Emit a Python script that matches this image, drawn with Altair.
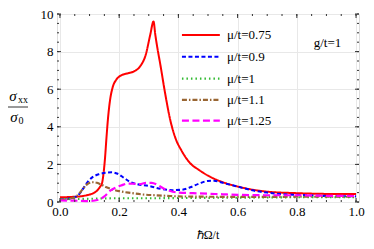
import altair as alt
import pandas as pd

# ---------------- data ----------------
red_x = [0, 0.04, 0.07, 0.09, 0.11, 0.125, 0.135, 0.142, 0.147, 0.152, 0.157, 0.162, 0.169, 0.178, 0.19, 0.205, 0.23, 0.25, 0.27, 0.29, 0.305, 0.316, 0.322, 0.33, 0.338, 0.355, 0.372, 0.39, 0.41, 0.44, 0.47, 0.5, 0.56, 0.62, 0.7, 0.8, 0.9, 1.0]
red_y = [0.25, 0.27, 0.3, 0.36, 0.45, 0.6, 0.8, 1.0, 1.5, 2.3, 3.4, 4.4, 5.4, 6.1, 6.5, 6.72, 6.85, 6.95, 7.2, 7.85, 8.9, 9.6, 8.9, 8.1, 7.4, 5.8, 4.4, 3.4, 2.75, 2.06, 1.7, 1.4, 1.0, 0.75, 0.55, 0.47, 0.43, 0.42]

blue_x = [0, 0.03, 0.05, 0.065, 0.08, 0.095, 0.11, 0.13, 0.155, 0.175, 0.195, 0.215, 0.235, 0.26, 0.3, 0.34, 0.38, 0.41, 0.44, 0.47, 0.5, 0.52, 0.55, 0.6, 0.65, 0.7, 0.75, 0.8, 0.9, 1.0]
blue_y = [0.14, 0.18, 0.25, 0.42, 0.75, 1.1, 1.32, 1.47, 1.56, 1.58, 1.5, 1.3, 1.08, 0.95, 0.85, 0.7, 0.63, 0.65, 0.78, 0.98, 1.12, 1.13, 1.02, 0.82, 0.62, 0.5, 0.42, 0.38, 0.32, 0.3]

green_x = [0, 0.1, 0.2, 0.3, 0.4, 0.5, 0.6, 0.7, 0.8, 0.9, 1.0]
green_y = [0.15, 0.17, 0.2, 0.2, 0.21, 0.22, 0.23, 0.24, 0.25, 0.25, 0.26]

brown_x = [0, 0.03, 0.05, 0.065, 0.08, 0.095, 0.11, 0.125, 0.14, 0.155, 0.175, 0.2, 0.24, 0.28, 0.32, 0.36, 0.4, 0.5, 0.6, 0.7, 0.8, 0.9, 1.0]
brown_y = [0.12, 0.17, 0.25, 0.45, 0.75, 0.98, 1.05, 1.02, 0.92, 0.8, 0.68, 0.58, 0.48, 0.4, 0.36, 0.33, 0.3, 0.28, 0.27, 0.27, 0.28, 0.28, 0.28]

magenta_x = [0, 0.05, 0.1, 0.13, 0.15, 0.17, 0.19, 0.21, 0.23, 0.25, 0.27, 0.29, 0.31, 0.33, 0.35, 0.37, 0.4, 0.45, 0.5, 0.55, 0.6, 0.7, 0.8, 0.9, 1.0]
magenta_y = [0.08, 0.07, 0.05, 0.12, 0.3, 0.6, 0.78, 0.9, 0.98, 0.97, 0.95, 1.02, 1.02, 0.9, 0.72, 0.6, 0.5, 0.47, 0.44, 0.41, 0.38, 0.36, 0.36, 0.33, 0.32]

series_names = ["μ/t=0.75", "μ/t=0.9", "μ/t=1", "μ/t=1.1", "μ/t=1.25"]
series_colors = ["#ff0000", "#0000ff", "#33bb33", "#996633", "#ff00ff"]
series_dashes = [[1, 0], [4, 2.5], [1.5, 3], [5, 2, 1.5, 2], [7, 3.5]]
series_widths = [2.0, 2.2, 1.8, 1.8, 2.0]

x_ticks = [0, 0.2, 0.4, 0.6, 0.8, 1.0]
y_ticks = [0, 2, 4, 6, 8, 10]
x_minor = [round(0.05 * i, 2) for i in range(21)]
y_minor = [0.5 * i for i in range(21)]

x_title = "ℏΩ/t"

# legend placement (data units)
leg_x0, leg_x1, leg_tx = 0.412, 0.54, 0.564
leg_rows = [8.88, 7.73, 6.56, 5.43, 4.33]

# ---------------- build tables ----------------
rows = []
for name, xs, ys in zip(series_names,
                        [red_x, blue_x, green_x, brown_x, magenta_x],
                        [red_y, blue_y, green_y, brown_y, magenta_y]):
    for i, (a, b) in enumerate(zip(xs, ys)):
        rows.append({"x": a, "y": b, "s": name, "o": i})
df = pd.DataFrame(rows)

leg = []
for name, yy in zip(series_names, leg_rows):
    leg.append({"x": leg_x0, "y": yy, "s": name, "o": 0})
    leg.append({"x": leg_x1, "y": yy, "s": name, "o": 1})
leg_df = pd.DataFrame(leg)
leg_txt = pd.DataFrame({"x": [leg_tx] * 5, "y": leg_rows, "s": series_names})

W, H = 302, 188
FRAME = "#333333"
SERIF = "Liberation Serif"

xscale = alt.Scale(domain=[-0.01, 1.01], nice=False, zero=False)
yscale = alt.Scale(domain=[0, 10], nice=False, zero=False)
xaxis = alt.Axis(values=x_ticks, format=".1f", grid=True, gridColor="#e8e8e8",
                 ticks=False, domain=False, labelFont=SERIF, labelFontSize=13,
                 labelColor="black", labelPadding=3, title=None, labelFlush=False)
yaxis = alt.Axis(values=y_ticks, format="d", grid=True, gridColor="#e8e8e8",
                 ticks=False, domain=False, labelFont=SERIF, labelFontSize=13,
                 labelColor="black", labelPadding=4, title=None)

X = alt.X("x:Q", scale=xscale, axis=xaxis)
Y = alt.Y("y:Q", scale=yscale, axis=yaxis)
color = alt.Color("s:N", scale=alt.Scale(domain=series_names, range=series_colors), legend=None)
dash = alt.StrokeDash("s:N", scale=alt.Scale(domain=series_names, range=series_dashes), legend=None)
sw = alt.StrokeWidth("s:N", scale=alt.Scale(domain=series_names, range=series_widths), legend=None)

curves = alt.Chart(df).mark_line(interpolate="monotone").encode(
    x=X, y=Y, color=color, strokeDash=dash, strokeWidth=sw, order="o:Q", detail="s:N")

legend_lines = alt.Chart(leg_df).mark_line().encode(
    x=X, y=Y, color=color, strokeDash=dash, strokeWidth=sw, order="o:Q", detail="s:N")
legend_text = alt.Chart(leg_txt).mark_text(align="left", baseline="middle", font=SERIF,
                                           fontSize=13, color="black").encode(
    x=X, y=Y, text="s:N")

gt = alt.Chart(pd.DataFrame({"x": [0.857], "y": [8.47], "t": ["g/t=1"]})).mark_text(
    align="left", baseline="middle", font=SERIF, fontSize=13, color="black").encode(
    x=X, y=Y, text="t:N")

# frame ticks
xmaj = pd.DataFrame({"x": x_ticks})
xmin = pd.DataFrame({"x": x_minor})
ymaj = pd.DataFrame({"y": y_ticks})
ymin = pd.DataFrame({"y": y_minor})
tk = dict(color=FRAME, strokeWidth=1)
ticks = [
    alt.Chart(xmaj).mark_rule(**tk).encode(x=X, y=alt.value(H), y2=alt.value(H - 4)),
    alt.Chart(xmaj).mark_rule(**tk).encode(x=X, y=alt.value(0), y2=alt.value(4)),
    alt.Chart(xmin).mark_rule(**tk).encode(x=X, y=alt.value(H), y2=alt.value(H - 2)),
    alt.Chart(xmin).mark_rule(**tk).encode(x=X, y=alt.value(0), y2=alt.value(2)),
    alt.Chart(ymaj).mark_rule(**tk).encode(y=Y, x=alt.value(0), x2=alt.value(4)),
    alt.Chart(ymaj).mark_rule(**tk).encode(y=Y, x=alt.value(W), x2=alt.value(W - 4)),
    alt.Chart(ymin).mark_rule(**tk).encode(y=Y, x=alt.value(0), x2=alt.value(2)),
    alt.Chart(ymin).mark_rule(**tk).encode(y=Y, x=alt.value(W), x2=alt.value(W - 2)),
]

# text helpers for titles
one = pd.DataFrame({"a": [0]})
def txt(t, x, y, size, italic=False):
    return alt.Chart(one).mark_text(text=t, font=SERIF, fontSize=size, color="black",
                                    fontStyle="italic" if italic else "normal",
                                    align="center", baseline="middle").encode(
        x=alt.value(x), y=alt.value(y))

ytitle = [
    txt("σ", -44, 82, 15, True),
    txt("xx", -34, 86, 10),
    alt.Chart(one).mark_rule(color="black", strokeWidth=0.8).encode(
        x=alt.value(-49), x2=alt.value(-29), y=alt.value(93), y2=alt.value(93)),
    txt("σ", -43, 103, 15, True),
    txt("0", -36, 107, 10),
]
xtitle = txt(x_title, 151, 221, 12)

chart = alt.layer(curves, *ticks, legend_lines, legend_text, gt, *ytitle, xtitle).properties(
    width=W, height=H, autosize="none",
    padding={"left": 49, "top": 6, "right": 7, "bottom": 39},
).configure_view(stroke=FRAME, strokeWidth=1.2).configure(background="white")

chart.save("out.html", embed_options={"renderer": "svg", "actions": False})
